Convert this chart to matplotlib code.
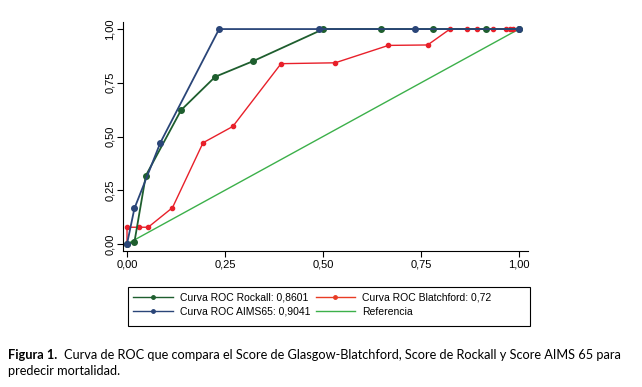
import matplotlib.pyplot as plt
from matplotlib.lines import Line2D
from matplotlib.patches import Rectangle

# ROC points
rockall_x = [0.0, 0.019, 0.048, 0.138, 0.225, 0.322, 0.501, 0.647, 0.780, 0.917, 1.0]
rockall_y = [0.0, 0.010, 0.318, 0.623, 0.778, 0.851, 1.0, 1.0, 1.0, 1.0, 1.0]

aims_x = [0.0, 0.019, 0.085, 0.235, 0.489, 0.735, 1.0]
aims_y = [0.0, 0.166, 0.471, 1.0, 1.0, 1.0, 1.0]

blatch_x = [0.0, 0.0, 0.031, 0.054, 0.116, 0.194, 0.270, 0.393, 0.531, 0.667, 0.767,
            0.824, 0.867, 0.894, 0.935, 0.968, 0.978, 0.986, 1.0]
blatch_y = [0.0, 0.078, 0.078, 0.078, 0.169, 0.471, 0.547, 0.839, 0.843, 0.924, 0.926,
            1.0, 1.0, 1.0, 1.0, 1.0, 1.0, 1.0, 1.0]

ref_x = [0.0, 1.0]
ref_y = [0.0, 1.0]

ticks = [0.0, 0.25, 0.5, 0.75, 1.0]
tick_labels = ["0,00", "0,25", "0,50", "0,75", "1,00"]

# legend is filled column by column
labels = ["Curva ROC Rockall: 0,8601", "Curva ROC AIMS65: 0,9041",
          "Curva ROC Blatchford: 0,72", "Referencia"]

c_rock = "#1e5e2e"
c_aims = "#2a4578"
c_blat = "#e8202a"
c_ref = "#3cb04a"

plt.rcParams['font.family'] = ['Liberation Sans', 'DejaVu Sans']

fig = plt.figure(figsize=(6.42, 3.87), dpi=100)
ax = fig.add_axes([0.1916, 0.3514, 0.6308, 0.5916])

ax.plot(ref_x, ref_y, color=c_ref, lw=1.0)
ax.plot(blatch_x, blatch_y, color=c_blat, lw=1.0, marker='o', ms=3.0)
ax.plot(rockall_x, rockall_y, color=c_rock, lw=1.3, marker='o', ms=4.0)
ax.plot(aims_x, aims_y, color=c_aims, lw=1.3, marker='o', ms=4.0)

ax.set_xlim(-0.0102, 1.023)
ax.set_ylim(-0.0326, 1.0326)
ax.set_xticks(ticks)
ax.set_xticklabels(tick_labels, fontsize=8)
ax.set_yticks(ticks)
ax.set_yticklabels(tick_labels, fontsize=8, rotation=90, va='center')
ax.tick_params(length=4, width=0.8, pad=2)
ax.spines['top'].set_visible(False)
ax.spines['right'].set_visible(False)

handles = [
    Line2D([], [], color=c_rock, lw=1.0, marker='o', ms=2.5),
    Line2D([], [], color=c_aims, lw=1.0, marker='o', ms=2.5),
    Line2D([], [], color="#e83c24", lw=1.0, marker='o', ms=2.5),
    Line2D([], [], color=c_ref, lw=1.0),
]
leg = fig.legend(handles, labels, loc='upper left',
                 bbox_to_anchor=(133/642, 1 - 293/387),
                 ncol=2, fontsize=7.5, frameon=False,
                 handlelength=3.8, columnspacing=0.5, borderpad=0, labelspacing=0.35,
                 handletextpad=0.7, borderaxespad=0)

# legend frame is wider than its content
fig.patches.append(Rectangle((128/642, 1 - 326/387), 402/642, 39/387,
                             transform=fig.transFigure, fill=False,
                             edgecolor='black', lw=0.8))

fig.text(8/642, 1 - 355/387, "Figura 1.", fontsize=9.2, family='Lato', weight='bold', va='center')
fig.text(64/642, 1 - 355/387,
         "Curva de ROC que compara el Score de Glasgow-Blatchford, Score de Rockall y Score AIMS 65 para",
         fontsize=9.2, family='Lato', va='center')
fig.text(8/642, 1 - 371/387, "predecir mortalidad.", fontsize=9.2, family='Lato', va='center')

fig.savefig("out.png", dpi=100)
